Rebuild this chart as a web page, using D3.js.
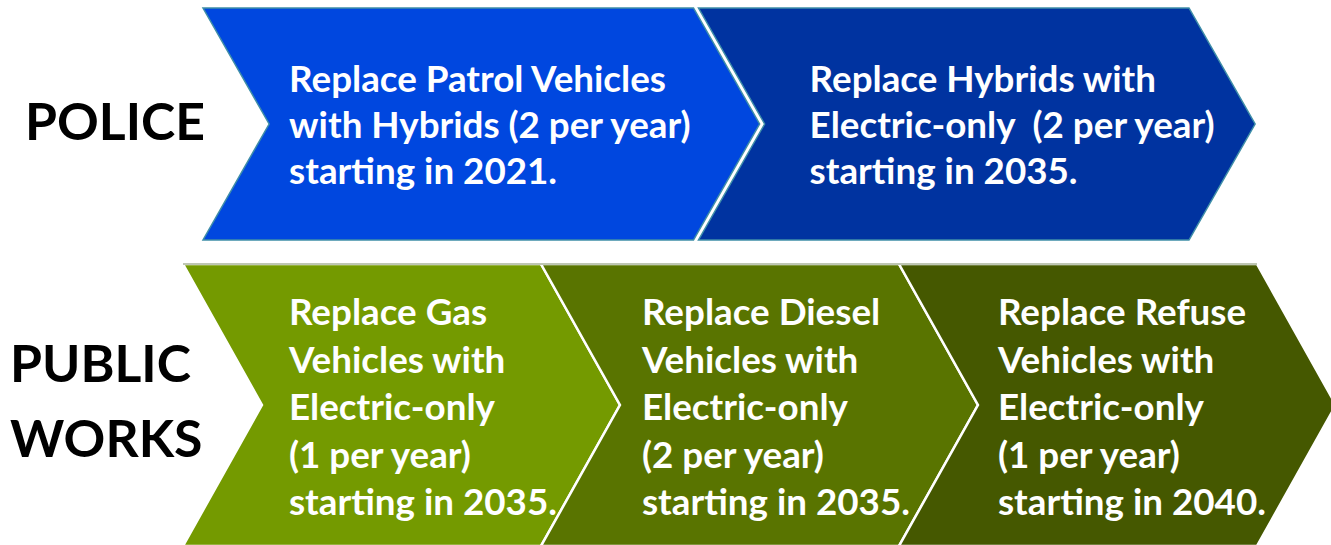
<!DOCTYPE html>
<html>
<head>
<meta charset="utf-8">
<script src="https://cdn.jsdelivr.net/npm/d3@7"></script>
<style>
  body { margin: 0; background: #fff; }
  svg { display: block; }
  text { white-space: pre; }
</style>
</head>
<body>
<div id="chart"></div>
<script>
// rows of the roadmap, left to right
const rowNames = ["POLICE", "PUBLIC WORKS"]
const policeSteps = [
    ["Replace Patrol Vehicles", "with Hybrids (2 per year)", "starting in 2021."],
    ["Replace Hybrids with", "Electric-only  (2 per year)", "starting in 2035."]
]
const worksSteps = [
    ["Replace Gas", "Vehicles with", "Electric-only", "(1 per year)", "starting in 2035."],
    ["Replace Diesel", "Vehicles with", "Electric-only", "(2 per year)", "starting in 2035."],
    ["Replace Refuse", "Vehicles with", "Electric-only", "(1 per year)", "starting in 2040."]
]
const policeColors = ["#0047df", "#0033a0"]
const worksColors = ["#749a00", "#597400", "#455800"]

const width = 1331, height = 545
const font = "Lato, 'Open Sans', sans-serif"

var svg = d3.select("#chart").append("svg")
    .attr("width", width)
    .attr("height", height)

// measure text so the font size matches the picture
function fitSize(txt, target, weight){
    let t = svg.append("text").attr("font-family", font).attr("font-weight", weight)
        .attr("font-size", 100).text(txt)
    let w = t.node().getComputedTextLength()
    t.remove()
    return 100 * target / w
}
var bodySize = fitSize("Replace Patrol Vehicles", 377, 700)
var labelSize = fitSize("POLICE", 180, 700)

var rows = [
    {steps: policeSteps, colors: policeColors, x: [203, 1194], y: [8, 240], gap: 5,
     stroke: "#3f8ea8", strokeW: 1.5, pad: [20, 45], lineH: 46, dy: 14, depth: 0.57},
    {steps: worksSteps, colors: worksColors, x: [183, 1257], y: [264, 546], gap: 0,
     stroke: "#ffffff", strokeW: 2.5, pad: [27, 22, 20], lineH: 47.5, dy: 15, depth: 0.56}
]

rows.forEach(function(row){
    let n = row.steps.length
    let x = d3.scaleLinear().domain([0, n]).range(row.x)
    let y = d3.scaleLinear().domain([0, 1]).range(row.y)
    let half = (y(1) - y(0)) / 2
    let depth = half * row.depth
    let mid = y(0.5)

    let g = svg.append("g")
    let items = row.steps.map(function(lines, i){
        return {lines: lines, color: row.colors[i], x0: x(i), x1: x(i + 1) - row.gap, pad: row.pad[i]}
    })

    g.selectAll("path.chev")
        .data(items)
        .enter()
        .append("path")
        .attr("class", "chev")
        .attr("d", function(d){
            let p = d3.path()
            p.moveTo(d.x0, y(0))
            p.lineTo(d.x1, y(0))
            p.lineTo(d.x1 + depth, mid)
            p.lineTo(d.x1, y(1))
            p.lineTo(d.x0, y(1))
            p.lineTo(d.x0 + depth, mid)
            p.closePath()
            return p.toString()
        })
        .attr("fill", function(d){ return d.color })
        .attr("stroke", row.stroke)
        .attr("stroke-width", row.strokeW)
        .attr("stroke-linejoin", "miter")

    // top edge of the green row is a thin grey line
    if(row.gap == 0){
        g.append("line")
            .attr("x1", x(0)).attr("x2", x(n))
            .attr("y1", y(0)).attr("y2", y(0))
            .attr("stroke", "#a9b39a").attr("stroke-width", 1.5)
    }

    items.forEach(function(d){
        let t = g.append("text")
            .attr("font-family", font)
            .attr("font-weight", 700)
            .attr("font-size", bodySize)
            .attr("fill", "#fff")
        let left = d.x0 + depth + d.pad
        let first = mid + row.dy - (d.lines.length - 1) / 2 * row.lineH
        d.lines.forEach(function(l, k){
            t.append("tspan").attr("x", left).attr("y", first + k * row.lineH).text(l)
        })
    })
})

// row labels
var labels = [
    {lines: ["POLICE"], x: 25, y: [140]},
    {lines: ["PUBLIC", "WORKS"], x: 10, y: [382, 457]}
]
labels.forEach(function(l, i){
    let t = svg.append("text")
        .attr("font-family", font)
        .attr("font-weight", 700)
        .attr("font-size", labelSize)
        .attr("fill", "#000")
    l.lines.forEach(function(s, k){
        t.append("tspan").attr("x", l.x).attr("y", l.y[k]).text(s)
    })
})
</script>
</body>
</html>
